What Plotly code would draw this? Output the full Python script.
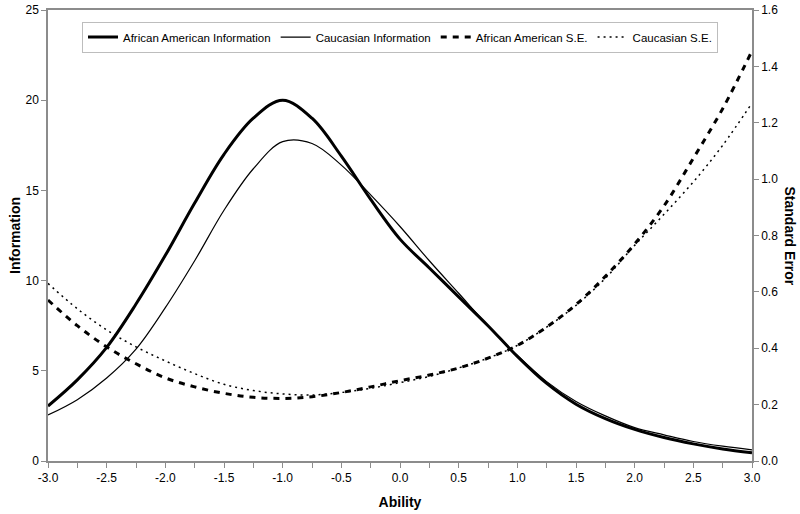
import plotly.graph_objects as go

ability = [-3.0, -2.75, -2.5, -2.25, -2.0, -1.75, -1.5, -1.25, -1.0, -0.75, -0.5, -0.25,
           0.0, 0.25, 0.5, 0.75, 1.0, 1.25, 1.5, 1.75, 2.0, 2.25, 2.5, 2.75, 3.0]

aa_info = [3.05, 4.5, 6.3, 8.7, 11.4, 14.3, 17.0, 19.0, 20.0, 19.0, 16.9, 14.5,
           12.3, 10.7, 9.1, 7.5, 5.8, 4.3, 3.15, 2.35, 1.75, 1.3, 0.95, 0.67, 0.46]

cau_info = [2.55, 3.4, 4.6, 6.2, 8.5, 11.1, 13.9, 16.2, 17.7, 17.6, 16.4, 14.75,
            13.0, 11.1, 9.3, 7.5, 5.85, 4.4, 3.3, 2.5, 1.85, 1.45, 1.08, 0.82, 0.62]

aa_se = [0.571, 0.48, 0.405, 0.345, 0.295, 0.263, 0.240, 0.226, 0.222, 0.228, 0.243, 0.263,
         0.285, 0.305, 0.330, 0.365, 0.410, 0.475, 0.555, 0.655, 0.770, 0.905, 1.074, 1.250, 1.455]

cau_se = [0.630, 0.54, 0.465, 0.405, 0.355, 0.310, 0.272, 0.250, 0.238, 0.234, 0.243, 0.258,
          0.278, 0.300, 0.330, 0.365, 0.410, 0.475, 0.552, 0.648, 0.765, 0.875, 0.990, 1.120, 1.270]

x_ticks = [-3.0, -2.5, -2.0, -1.5, -1.0, -0.5, 0.0, 0.5, 1.0, 1.5, 2.0, 2.5, 3.0]
x_tick_labels = ["-3.0", "-2.5", "-2.0", "-1.5", "-1.0", "-0.5", "0.0", "0.5", "1.0", "1.5", "2.0", "2.5", "3.0"]
left_ticks = [0, 5, 10, 15, 20, 25]
right_ticks = [0.0, 0.2, 0.4, 0.6, 0.8, 1.0, 1.2, 1.4, 1.6]
right_tick_labels = ["0.0", "0.2", "0.4", "0.6", "0.8", "1.0", "1.2", "1.4", "1.6"]

FONT = "Arial, Liberation Sans, sans-serif"
AXIS = "#8c8c8c"

fig = go.Figure()
fig.add_trace(go.Scatter(x=ability, y=aa_info, name="African American Information",
                         mode="lines", line=dict(color="black", width=3, shape="spline")))
fig.add_trace(go.Scatter(x=ability, y=cau_info, name="Caucasian Information",
                         mode="lines", line=dict(color="black", width=1.2, shape="spline")))
fig.add_trace(go.Scatter(x=ability, y=aa_se, name="African American S.E.", yaxis="y2",
                         mode="lines", line=dict(color="black", width=3, dash="6px,6px", shape="spline")))
fig.add_trace(go.Scatter(x=ability, y=cau_se, name="Caucasian S.E.", yaxis="y2",
                         mode="lines", line=dict(color="black", width=1.5, dash="2px,4px", shape="spline")))

fig.update_layout(
    width=800, height=514,
    margin=dict(l=48, r=48, t=10, b=53),
    paper_bgcolor="white", plot_bgcolor="white",
    font=dict(family=FONT, size=12, color="black"),
    showlegend=True,
    legend=dict(orientation="h", x=0.5, xanchor="center", y=0.94, yanchor="middle",
                bordercolor="#bdbdbd", borderwidth=1, bgcolor="white",
                font=dict(size=11.5, family=FONT), itemwidth=30, tracegroupgap=0),
    xaxis=dict(range=[-3, 3], tickvals=x_ticks, ticktext=x_tick_labels, automargin=False,
               showgrid=False, zeroline=False, showline=True, linecolor=AXIS, linewidth=1.5,
               mirror=True, ticks="outside", ticklen=5, tickcolor=AXIS,
               minor=dict(dtick=0.25, tick0=-3, ticks="outside", ticklen=5, tickcolor=AXIS),
               title=dict(text="<b>Ability</b>", font=dict(size=14), standoff=13)),
    yaxis=dict(range=[0, 25], tickvals=left_ticks, showgrid=False, zeroline=False, automargin=False,
               showline=True, linecolor=AXIS, linewidth=1.5, mirror=True,
               ticks="outside", ticklen=5, tickcolor=AXIS,
               title=dict(text="<b>Information</b>", font=dict(size=14), standoff=2)),
    yaxis2=dict(range=[0, 1.6], tickvals=right_ticks, ticktext=right_tick_labels, automargin=False,
                overlaying="y", side="right", showgrid=False, zeroline=False,
                showline=True, linecolor=AXIS, linewidth=1.5,
                ticks="outside", ticklen=5, tickcolor=AXIS),
    annotations=[dict(text="<b>Standard Error</b>", textangle=90, x=(790 - 48) / 704.0, y=0.5,
                      xref="paper", yref="paper", xanchor="center", yanchor="middle",
                      showarrow=False, font=dict(size=14, family=FONT))],
)

fig.write_html("out.html", config={"displayModeBar": False},
               post_script="document.body.style.margin='0px';document.body.style.overflow='hidden';")
